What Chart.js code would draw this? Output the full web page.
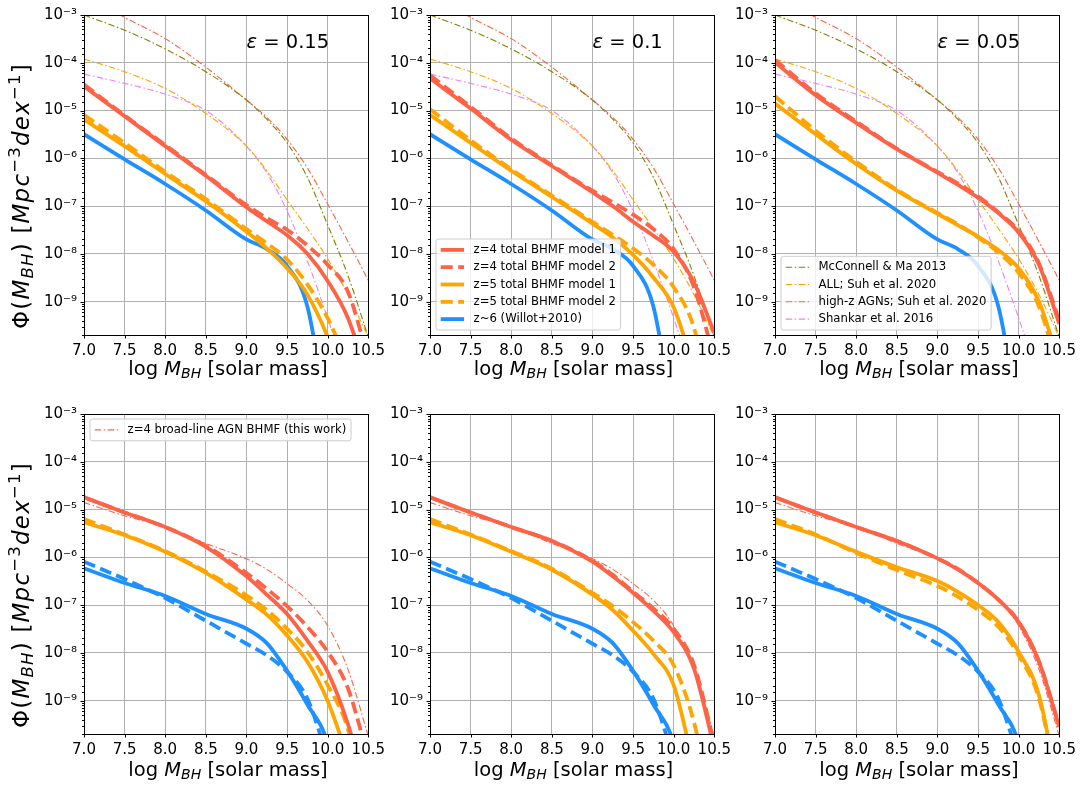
<!DOCTYPE html>
<html>
<head>
<meta charset="utf-8">
<script src="https://cdn.jsdelivr.net/npm/chart.js@4.4.0/dist/chart.umd.min.js"></script>
<style>
    body { margin: 0; background: #fff; width: 1086px; height: 789px; position: relative; overflow: hidden; font-family: 'DejaVu Sans'; color: #000; }
    .panel { position: absolute; }
    .xlab { position: absolute; width: 288px; text-align: center; font-size: 19.5px; line-height: 24px; white-space: nowrap; }
    .ylab { position: absolute; font-size: 23px; letter-spacing: 1.2px; line-height: 26px; white-space: nowrap; transform: translate(-50%, -50%) rotate(-90deg); }
    sub, sup { font-size: 72%; line-height: 0; }
    sub { vertical-align: -0.22em; }
    sup { vertical-align: 0.55em; }
</style>
</head>
<body>
<script>
// x grid shared by every curve (log M_BH)
const logMass = [7.0, 7.5, 8.0, 8.5, 9.0, 9.25, 9.5, 9.75, 10.0, 10.25, 10.5];
const massTicks = [7.0, 7.5, 8.0, 8.5, 9.0, 9.5, 10.0, 10.5];
const phiDecades = [-9, -8, -7, -6, -5, -4, -3];
const efficiencies = ['0.15', '0.1', '0.05'];

// literature BHMFs, same in the three top panels
const mcconnellMa2013 = [1.0e-3, 4.8e-4, 1.95e-4, 6.5e-5, 1.66e-5, 6.6e-6, 2.1e-6, 4.0e-7, 4.0e-8, 3.5e-9, 1.8e-10];
const suhAll2020 = [1.2e-4, 6.5e-5, 2.9e-5, 8.7e-6, 1.8e-6, 5.5e-7, 1.35e-7, 3.4e-8, 7.9e-9, 1.4e-9, 1.8e-10];
const suhHighz2020 = [2.6e-3, 8.9e-4, 3.2e-4, 8.1e-5, 1.66e-5, 7.2e-6, 2.5e-6, 6.3e-7, 1.1e-7, 1.8e-8, 2.8e-9];
const shankar2016 = [5.8e-5, 3.7e-5, 2.2e-5, 1.0e-5, 1.8e-6, 5.0e-7, 7.9e-8, 7.1e-9, 4.5e-10, 2.5e-11, null];
const willot2010 = [3.2e-6, 9.5e-7, 2.9e-7, 8.1e-8, 2.0e-8, 1.26e-8, 5.6e-9, 7.9e-10, 3.2e-12, null, null];

// top row: eps = 0.15
const z4m1_e015 = [3.2e-5, 7.6e-6, 1.8e-6, 4.3e-7, 9.5e-8, 4.8e-8, 2.45e-8, 1.0e-8, 2.7e-9, 4.5e-10, 2.5e-11];
const z4m2_e015 = [3.5e-5, 7.9e-6, 1.9e-6, 4.5e-7, 1.05e-7, 5.6e-8, 3.2e-8, 1.5e-8, 5.9e-9, 1.6e-9, 6.3e-11];
const z5m1_e015 = [6.5e-6, 1.8e-6, 4.7e-7, 1.26e-7, 2.9e-8, 1.3e-8, 5.0e-9, 1.4e-9, 1.8e-10, 1.0e-11, null];
const z5m2_e015 = [8.1e-6, 2.1e-6, 5.2e-7, 1.4e-7, 3.3e-8, 1.66e-8, 7.6e-9, 2.3e-9, 4.5e-10, 5.0e-11, null];
// top row: eps = 0.1
const z4m1_e010 = [4.7e-5, 1.1e-5, 2.45e-6, 6.9e-7, 1.95e-7, 1.0e-7, 4.7e-8, 2.4e-8, 1.1e-8, 2.5e-9, 2.2e-10];
const z4m2_e010 = [5.5e-5, 1.2e-5, 2.6e-6, 7.2e-7, 2.1e-7, 1.2e-7, 6.6e-8, 3.3e-8, 1.26e-8, 2.0e-9, 6.3e-11];
const z5m1_e010 = [8.1e-6, 2.1e-6, 5.5e-7, 1.55e-7, 4.3e-8, 2.2e-8, 9.5e-9, 3.2e-9, 7.6e-10, 4.0e-11, null];
const z5m2_e010 = [1.07e-5, 2.4e-6, 5.9e-7, 1.66e-7, 4.7e-8, 2.5e-8, 1.3e-8, 5.9e-9, 2.0e-9, 2.8e-10, 3.2e-12];
// top row: eps = 0.05
const z4m1_e005 = [1.02e-4, 2.1e-5, 5.5e-6, 1.55e-6, 5.0e-7, 2.8e-7, 1.5e-7, 7.1e-8, 2.8e-8, 5.9e-9, 3.4e-10];
const z4m2_e005 = [1.15e-4, 2.3e-5, 5.9e-6, 1.6e-6, 5.2e-7, 3.0e-7, 1.6e-7, 7.4e-8, 3.0e-8, 6.3e-9, 4.0e-10];
const z5m1_e005 = [1.4e-5, 3.2e-6, 7.6e-7, 2.1e-7, 6.9e-8, 4.0e-8, 2.3e-8, 1.2e-8, 5.0e-9, 1.0e-9, 5.0e-11];
const z5m2_e005 = [2.0e-5, 3.8e-6, 8.5e-7, 2.2e-7, 7.2e-8, 4.2e-8, 2.2e-8, 1.07e-8, 4.0e-9, 7.9e-10, 3.2e-11];

// bottom row: broad-line AGN and z~6 curves, same in the three panels
const broadLineZ4 = [1.4e-5, 7.4e-6, 4.3e-6, 1.95e-6, 9.3e-7, 5.6e-7, 2.8e-7, 1.26e-7, 3.7e-8, 4.5e-9, 1.8e-10];
const z6Solid = [5.9e-7, 2.9e-7, 1.55e-7, 6.5e-8, 3.2e-8, 1.6e-8, 4.2e-9, 8.3e-10, 1.26e-10, 1.0e-12, null];
const z6Dashed = [8.1e-7, 3.5e-7, 1.4e-7, 4.7e-8, 1.55e-8, 8.9e-9, 4.0e-9, 1.1e-9, 6.3e-11, null, null];
// bottom row: eps = 0.15
const bl_z4m1_e015 = [1.8e-5, 8.7e-6, 4.3e-6, 1.66e-6, 4.0e-7, 1.66e-7, 6.5e-8, 1.8e-8, 4.0e-9, 3.2e-10, 1.0e-11];
const bl_z4m2_e015 = [1.8e-5, 8.7e-6, 4.3e-6, 1.74e-6, 4.7e-7, 2.2e-7, 9.5e-8, 3.5e-8, 1.05e-8, 1.8e-9, 6.3e-11];
const bl_z5m1_e015 = [5.4e-6, 2.9e-6, 1.3e-6, 4.7e-7, 1.3e-7, 6.3e-8, 2.3e-8, 6.5e-9, 9.8e-10, 6.3e-11, null];
const bl_z5m2_e015 = [6.3e-6, 3.0e-6, 1.35e-6, 5.0e-7, 1.6e-7, 7.9e-8, 3.2e-8, 1.05e-8, 2.1e-9, 2.5e-10, 3.2e-12];
// bottom row: eps = 0.1
const bl_z4m1_e010 = [1.8e-5, 8.7e-6, 4.3e-6, 2.2e-6, 8.1e-7, 4.0e-7, 1.8e-7, 7.6e-8, 2.7e-8, 4.7e-9, 1.0e-10];
const bl_z4m2_e010 = [1.8e-5, 8.7e-6, 4.3e-6, 2.2e-6, 8.5e-7, 4.3e-7, 1.9e-7, 8.5e-8, 3.2e-8, 5.6e-9, 1.26e-10];
const bl_z5m1_e010 = [5.4e-6, 2.9e-6, 1.3e-6, 5.5e-7, 1.66e-7, 7.9e-8, 2.9e-8, 9.5e-9, 2.1e-9, 4.0e-11, null];
const bl_z5m2_e010 = [6.3e-6, 3.0e-6, 1.35e-6, 5.8e-7, 1.8e-7, 9.5e-8, 4.4e-8, 1.8e-8, 5.5e-9, 3.5e-10, 3.2e-12];
// bottom row: eps = 0.05
const bl_z4m1_e005 = [1.8e-5, 8.7e-6, 4.3e-6, 2.2e-6, 9.5e-7, 5.6e-7, 2.9e-7, 1.3e-7, 4.4e-8, 6.5e-9, 2.8e-10];
const bl_z4m2_e005 = [1.8e-5, 8.7e-6, 4.3e-6, 2.2e-6, 9.5e-7, 5.7e-7, 2.9e-7, 1.3e-7, 4.5e-8, 6.6e-9, 2.9e-10];
const bl_z5m1_e005 = [5.4e-6, 2.9e-6, 1.3e-6, 6.2e-7, 3.2e-7, 1.9e-7, 1.0e-7, 4.4e-8, 1.05e-8, 1.3e-9, 1.0e-11];
const bl_z5m2_e005 = [6.3e-6, 3.0e-6, 1.23e-6, 5.4e-7, 2.5e-7, 1.5e-7, 7.9e-8, 3.5e-8, 8.9e-9, 1.1e-9, 1.0e-11];

const RED = '#ff6347', ORANGE = '#ffa500', BLUE = '#1e90ff', OLIVE = '#808000', VIOLET = '#ee82ee';
const SUP = { '-': '\u207B', '0': '\u2070', '1': '\u00B9', '2': '\u00B2', '3': '\u00B3', '4': '\u2074', '5': '\u2075', '6': '\u2076', '7': '\u2077', '8': '\u2078', '9': '\u2079' };

Chart.defaults.font.family = "'DejaVu Sans'";
Chart.defaults.color = '#000';

function isDecade(v) {
    const l = Math.log10(v);
    return Math.abs(l - Math.round(l)) < 1e-6;
}

function series(values) {
    return logMass.map((m, i) => ({ x: m, y: values[i] }));
}

function thick(label, color, values, dashed) {
    return {
        label: label,
        data: series(values),
        borderColor: color,
        borderWidth: 3.8,
        borderDash: dashed ? [12, 5.5] : [],
        pointRadius: 0,
        cubicInterpolationMode: 'monotone',
        clip: 0
    };
}

function thin(label, color, values) {
    return {
        label: label,
        data: series(values),
        borderColor: color,
        borderWidth: 1.1,
        borderDash: [6.5, 2.5, 1.5, 2.5],
        pointRadius: 0,
        cubicInterpolationMode: 'monotone',
        clip: 0
    };
}

function roundBox(ctx, x, y, w, h, r) {
    ctx.beginPath();
    ctx.moveTo(x + r, y);
    ctx.lineTo(x + w - r, y);
    ctx.arcTo(x + w, y, x + w, y + r, r);
    ctx.lineTo(x + w, y + h - r);
    ctx.arcTo(x + w, y + h, x + w - r, y + h, r);
    ctx.lineTo(x + r, y + h);
    ctx.arcTo(x, y + h, x, y + h - r, r);
    ctx.lineTo(x, y + r);
    ctx.arcTo(x, y, x + r, y, r);
    ctx.closePath();
}

// matplotlib-like frame, tick marks, legend box and the epsilon note
const mplLook = {
    id: 'mplLook',
    afterDraw(chart, args, opts) {
        const ctx = chart.ctx;
        const a = chart.chartArea;
        const xs = chart.scales.x, ys = chart.scales.y;
        ctx.save();
        ctx.strokeStyle = '#000';
        ctx.lineWidth = 1;
        ctx.setLineDash([]);
        ctx.beginPath();
        xs.ticks.forEach(t => {
            const px = Math.round(xs.getPixelForValue(t.value)) + 0.5;
            ctx.moveTo(px, a.bottom); ctx.lineTo(px, a.bottom + 3.5);
        });
        ys.ticks.forEach(t => {
            const py = Math.round(ys.getPixelForValue(t.value)) + 0.5;
            const len = isDecade(t.value) ? 3.5 : 2;
            ctx.moveTo(a.left - len, py); ctx.lineTo(a.left, py);
        });
        ctx.stroke();
        ctx.strokeRect(Math.round(a.left) + 0.5, Math.round(a.top) + 0.5, Math.round(a.right - a.left), Math.round(a.bottom - a.top));

        if (opts.eps) {
            const px = xs.getPixelForValue(9.0), py = ys.getPixelForValue(2e-4);
            ctx.textBaseline = 'alphabetic';
            ctx.textAlign = 'left';
            ctx.fillStyle = '#000';
            ctx.font = "italic 19.5px 'DejaVu Sans'";
            ctx.fillText('\u03B5', px, py);
            const w = ctx.measureText('\u03B5').width;
            ctx.font = "19.5px 'DejaVu Sans'";
            ctx.fillText(' = ' + opts.eps, px + w, py);
        }

        if (opts.legend) {
            const items = opts.legend.items.map(i => chart.data.datasets[i]);
            const pad = 4.7, handle = 23.4, gap = 9.4, row = 17.3;
            ctx.font = "11.7px 'DejaVu Sans'";
            const textW = Math.max(...items.map(d => ctx.measureText(d.label).width));
            const w = pad + handle + gap + textW + pad;
            const h = items.length * row + 4.5;
            const x0 = a.left + 6;
            const y0 = opts.legend.corner === 'upper left' ? a.top + 5 : a.bottom - 5 - h;
            roundBox(ctx, x0, y0, w, h, 2.5);
            ctx.fillStyle = 'rgba(255,255,255,0.8)';
            ctx.fill();
            ctx.strokeStyle = '#cccccc';
            ctx.stroke();
            items.forEach((d, i) => {
                const cy = y0 + 2.25 + row / 2 + i * row;
                ctx.beginPath();
                ctx.setLineDash(d.borderDash);
                ctx.strokeStyle = d.borderColor;
                ctx.lineWidth = d.borderWidth;
                ctx.moveTo(x0 + pad, cy);
                ctx.lineTo(x0 + pad + handle, cy);
                ctx.stroke();
                ctx.setLineDash([]);
                ctx.fillStyle = '#000';
                ctx.textBaseline = 'middle';
                ctx.fillText(d.label, x0 + pad + handle + gap, cy);
            });
        }
        ctx.restore();
    }
};

function makePanel(left, top, datasets, look) {
    const box = document.createElement('div');
    box.className = 'panel';
    box.style.left = (left - 55) + 'px';
    box.style.top = (top - 12) + 'px';
    const canvas = document.createElement('canvas');
    canvas.width = 363;
    canvas.height = 366;
    box.appendChild(canvas);
    document.body.appendChild(box);

    new Chart(canvas, {
        type: 'line',
        data: { datasets: datasets },
        plugins: [mplLook],
        options: {
            responsive: false,
            animation: false,
            devicePixelRatio: 1,
            events: [],
            layout: { padding: { top: 12, right: 20, bottom: 0, left: 0 } },
            plugins: {
                legend: { display: false },
                tooltip: { enabled: false },
                mplLook: look
            },
            scales: {
                x: {
                    type: 'linear',
                    min: 7.0,
                    max: 10.5,
                    afterFit: s => { s.height = 30; },
                    afterBuildTicks: s => { s.ticks = massTicks.map(v => ({ value: v })); },
                    border: { display: false },
                    grid: { color: '#b0b0b0', lineWidth: 1, drawTicks: false },
                    ticks: { autoSkip: false, maxRotation: 0, padding: 7, font: { size: 15 }, callback: v => v.toFixed(1) }
                },
                y: {
                    type: 'logarithmic',
                    min: 2e-10,
                    max: 1e-3,
                    afterFit: s => { s.width = 55; },
                    border: { display: false },
                    grid: {
                        drawTicks: false,
                        lineWidth: 1,
                        color: c => (c.tick && isDecade(c.tick.value)) ? '#b0b0b0' : 'rgba(0,0,0,0)'
                    },
                    ticks: {
                        autoSkip: false,
                        padding: 7,
                        font: { size: 15 },
                        callback: v => {
                            if (!isDecade(v)) return '';
                            const e = Math.round(Math.log10(v));
                            if (!phiDecades.includes(e)) return '';
                            return '10' + String(e).split('').map(ch => SUP[ch]).join('');
                        }
                    }
                }
            }
        }
    });
}

const panelLeft = [84, 429.5, 775];
const rowTop = [10.5, 410];
const topModels = [
    [z4m1_e015, z4m2_e015, z5m1_e015, z5m2_e015],
    [z4m1_e010, z4m2_e010, z5m1_e010, z5m2_e010],
    [z4m1_e005, z4m2_e005, z5m1_e005, z5m2_e005]
];
const bottomModels = [
    [bl_z4m1_e015, bl_z4m2_e015, bl_z5m1_e015, bl_z5m2_e015],
    [bl_z4m1_e010, bl_z4m2_e010, bl_z5m1_e010, bl_z5m2_e010],
    [bl_z4m1_e005, bl_z4m2_e005, bl_z5m1_e005, bl_z5m2_e005]
];

for (let i = 0; i < 3; i++) {
    const m = topModels[i];
    const topSets = [
        thick('z=4 total BHMF model 1', RED, m[0], false),
        thick('z=4 total BHMF model 2', RED, m[1], true),
        thick('z=5 total BHMF model 1', ORANGE, m[2], false),
        thick('z=5 total BHMF model 2', ORANGE, m[3], true),
        thick('z~6 (Willot+2010)', BLUE, willot2010, false),
        thin('McConnell & Ma 2013', OLIVE, mcconnellMa2013),
        thin('ALL; Suh et al. 2020', ORANGE, suhAll2020),
        thin('high-z AGNs; Suh et al. 2020', RED, suhHighz2020),
        thin('Shankar et al. 2016', VIOLET, shankar2016)
    ];
    const look = { eps: efficiencies[i] };
    if (i === 1) look.legend = { corner: 'lower left', items: [0, 1, 2, 3, 4] };
    if (i === 2) look.legend = { corner: 'lower left', items: [5, 6, 7, 8] };
    makePanel(panelLeft[i], rowTop[0], topSets, look);

    const b = bottomModels[i];
    const bottomSets = [
        thick('z=4 total BHMF model 1', RED, b[0], false),
        thick('z=4 total BHMF model 2', RED, b[1], true),
        thick('z=5 total BHMF model 1', ORANGE, b[2], false),
        thick('z=5 total BHMF model 2', ORANGE, b[3], true),
        thick('z~6 model 1', BLUE, z6Solid, false),
        thick('z~6 model 2', BLUE, z6Dashed, true),
        thin('z=4 broad-line AGN BHMF (this work)', RED, broadLineZ4)
    ];
    const bLook = {};
    if (i === 0) bLook.legend = { corner: 'upper left', items: [6] };
    makePanel(panelLeft[i], rowTop[1], bottomSets, bLook);
}

// axis titles as html text (sub/superscripts)
const xTitleBaseline = [376, 777];
rowTop.forEach((t, r) => {
    panelLeft.forEach(l => {
        const d = document.createElement('div');
        d.className = 'xlab';
        d.style.left = l + 'px';
        d.style.top = (xTitleBaseline[r] - 18.8) + 'px';
        d.innerHTML = 'log <i>M</i><sub><i>BH</i></sub> [solar mass]';
        document.body.appendChild(d);
    });
});
[196, 595].forEach(cy => {
    const d = document.createElement('div');
    d.className = 'ylab';
    d.style.left = '21px';
    d.style.top = cy + 'px';
    d.innerHTML = '\u03A6(<i>M</i><sub><i>BH</i></sub>) [<i>Mpc</i><sup>\u22123</sup><i>dex</i><sup>\u22121</sup>]';
    document.body.appendChild(d);
});
</script>
</body>
</html>
